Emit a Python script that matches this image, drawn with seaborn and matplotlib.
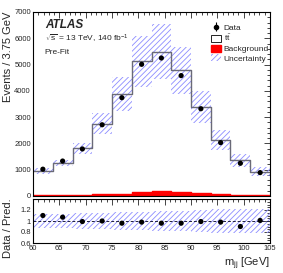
import numpy as np
import pandas as pd
import matplotlib
matplotlib.use("Agg")
import matplotlib.pyplot as plt
import seaborn as sns
from matplotlib.patches import Patch
from matplotlib.ticker import MultipleLocator

# ---- data ----
bin_edges = [60 + 3.75 * i for i in range(13)]
bin_centers = [61.875, 65.625, 69.375, 73.125, 76.875, 80.625,
               84.375, 88.125, 91.875, 95.625, 99.375, 103.125]
data_vals = [1020, 1330, 1790, 2710, 3740, 5010, 5250, 4580, 3320, 2030, 1245, 890]
pred_vals = [950, 1255, 1815, 2740, 3870, 5125, 5490, 4780, 3375, 2130, 1360, 915]
bkg_vals = [30, 40, 50, 60, 90, 150, 180, 150, 100, 70, 50, 40]
unc_vals = [100, 127, 220, 400, 647, 977, 1046, 886, 616, 380, 240, 171]
ratio_vals = [1.10, 1.07, 0.99, 1.00, 0.96, 0.98, 0.96, 0.96, 0.99, 0.98, 0.90, 1.01]
ratio_unc = [0.12, 0.13, 0.14, 0.15, 0.16, 0.17, 0.18, 0.19, 0.20, 0.21, 0.22, 0.22]

W, H, DPI = 283, 273, 100
sns.set_style("white")
plt.rcParams['font.family'] = ['Liberation Sans', 'DejaVu Sans']
plt.rcParams['hatch.linewidth'] = 0.6
plt.rcParams['mathtext.fontset'] = 'custom'
plt.rcParams['mathtext.rm'] = 'Liberation Sans'
plt.rcParams['mathtext.it'] = 'Liberation Sans:italic'

fig = plt.figure(figsize=(W / DPI, H / DPI), dpi=DPI)
ax = fig.add_axes([33 / W, 1 - 196 / H, 237 / W, 184 / H])
ax2 = fig.add_axes([33 / W, 1 - 243 / H, 237 / W, 44 / H])

df = pd.DataFrame({"x": bin_centers, "pred": pred_vals, "bkg": bkg_vals,
                   "data": data_vals, "unc": unc_vals,
                   "ratio": ratio_vals, "runc": ratio_unc})

hatch_col = "#8c8cff"
edges = np.array(bin_edges)

# uncertainty band
lo = np.array(pred_vals) - np.array(unc_vals)
hi = np.array(pred_vals) + np.array(unc_vals)
ax.fill_between(edges, np.append(lo, lo[-1]), np.append(hi, hi[-1]), step="post",
                facecolor="none", edgecolor=hatch_col, hatch="//////", linewidth=0)

# prediction step
sns.histplot(data=df, x="x", weights="pred", bins=bin_edges, element="step",
             fill=False, color="#6a6a78", linewidth=1.0, ax=ax)
# background
sns.histplot(data=df, x="x", weights="bkg", bins=bin_edges, element="step",
             fill=True, color="red", alpha=1, linewidth=1.0, ax=ax)
# data
sns.scatterplot(data=df, x="x", y="data", color="black", s=14, edgecolor="none",
                ax=ax, zorder=5)

ax.set_xlim(60, 105)
ax.set_ylim(0, 7000)
ax.set_xlabel("")
ax.set_ylabel("Events / 3.75 GeV", fontsize=8, loc="top")
ax.yaxis.set_label_coords(-0.083, 1.0)
ax.set_xticklabels([])
ax.yaxis.set_major_locator(MultipleLocator(1000))
ax.yaxis.set_minor_locator(MultipleLocator(200))
ax.xaxis.set_major_locator(MultipleLocator(5))
ax.xaxis.set_minor_locator(MultipleLocator(1))

ax.text(0.05, 0.93, "ATLAS", transform=ax.transAxes, fontsize=8.5,
        fontweight="bold", fontstyle="italic", va="center")
ax.text(0.05, 0.855, r"$\sqrt{\mathrm{s}}$ = 13 TeV, 140 fb$^{-1}$", transform=ax.transAxes,
        fontsize=6, va="center")
ax.text(0.05, 0.78, "Pre-Fit", transform=ax.transAxes, fontsize=6, va="center")

eb = ax.errorbar([np.nan], [np.nan], yerr=[1], fmt="o", color="black", ms=3, lw=0.8)
handles = [eb,
           Patch(facecolor="white", edgecolor="black", linewidth=0.6),
           Patch(facecolor="red", edgecolor="red"),
           Patch(facecolor="none", edgecolor=hatch_col, hatch="//////", linewidth=0)]
labels = ["Data", r"t$\bar{\mathrm{t}}$", "Background", "Uncertainty"]
ax.legend(handles, labels, loc="upper right", bbox_to_anchor=(1.02, 0.97), frameon=False,
          fontsize=6, handlelength=1.2, handleheight=0.9, handletextpad=0.3,
          labelspacing=0.15, borderpad=0.2)

# ratio panel
rlo = np.array(ratio_unc)
ax2.fill_between(edges, np.append(1 - rlo, 1 - rlo[-1]), np.append(1 + rlo, 1 + rlo[-1]),
                 step="post", facecolor="none", edgecolor=hatch_col, hatch="//////", linewidth=0)
ax2.axhline(1.0, color="#202040", lw=0.7, ls=(0, (3, 2)))
sns.scatterplot(data=df, x="x", y="ratio", color="black", s=14, edgecolor="none",
                ax=ax2, zorder=5)
ax2.set_xlim(60, 105)
ax2.set_ylim(0.6, 1.4)
ax2.set_yticks([0.6, 0.8, 1.0, 1.2])
ax2.set_yticklabels(["0.6", "0.8", "1", "1.2"])
ax2.yaxis.set_minor_locator(MultipleLocator(0.05))
ax2.xaxis.set_major_locator(MultipleLocator(5))
ax2.xaxis.set_minor_locator(MultipleLocator(1))
ax2.set_xlabel(r"m$_{\mathrm{jj}}$ [GeV]", fontsize=8, loc="right")
ax2.xaxis.set_label_coords(1.0, -0.28)
ax2.set_ylabel("Data / Pred.", fontsize=8, loc="top")
ax2.yaxis.set_label_coords(-0.083, 1.02)

for a in (ax, ax2):
    a.tick_params(which="both", direction="in", top=True, right=True,
                  labelsize=5.5, pad=1.5, width=0.6)
    a.tick_params(which="major", length=4)
    a.tick_params(which="minor", length=2)
    for s in a.spines.values():
        s.set_linewidth(0.8)
        s.set_color("black")

fig.savefig("out.png", dpi=DPI)
